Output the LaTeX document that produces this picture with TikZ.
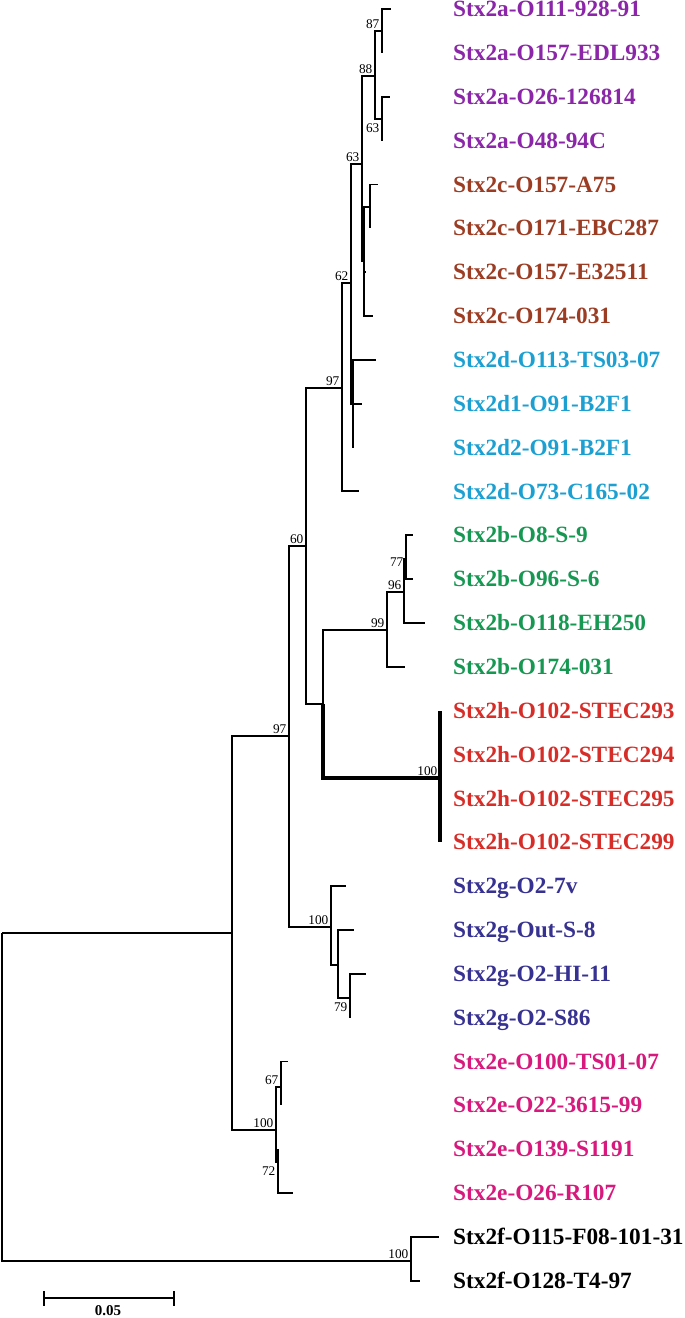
\documentclass[tikz,border=0pt]{standalone}
\usepackage{fontspec}
\setmainfont{Liberation Serif}

\definecolor{stxa}{RGB}{139,38,168}
\definecolor{stxc}{RGB}{155,60,35}
\definecolor{stxd}{RGB}{28,160,210}
\definecolor{stxb}{RGB}{22,152,82}
\definecolor{stxh}{RGB}{215,45,40}
\definecolor{stxg}{RGB}{55,50,145}
\definecolor{stxe}{RGB}{215,25,125}

\tikzset{
  branch/.style = {line width=1.8pt},
  hbranch/.style = {line width=3.2pt},
  leaf/.style = {anchor=west, inner sep=0pt, text height=15.4pt, text depth=0pt,
                 font=\bfseries\fontsize{23.3}{23.3}\selectfont},
  boot/.style = {anchor=south east, inner sep=2.5pt, text height=8.8pt, text depth=0pt,
                 font=\fontsize{13.3}{13.3}\selectfont},
  bootb/.style = {boot, anchor=north east, yshift=-2pt},
}

\begin{document}
\begin{tikzpicture}[x=1pt, y=-1pt]
  \useasboundingbox (0,0) rectangle (685,1318);

  % inner nodes
  \coordinate (root) at (2,933);
  \coordinate (A) at (232,933);
  \coordinate (B) at (289,736);
  \coordinate (C) at (306,546);
  \coordinate (D) at (342,388);
  \coordinate (n62) at (351,283);
  \coordinate (n63b) at (362,164);
  \coordinate (n88) at (375,76);
  \coordinate (n87) at (382,31);
  \coordinate (n63a) at (382,119);
  \coordinate (nc) at (364,261);
  \coordinate (nL) at (370,207);
  \coordinate (nd) at (353,404);
  \coordinate (BH) at (323,704);
  \coordinate (n99) at (387,630);
  \coordinate (n96) at (404,592);
  \coordinate (n77) at (406,559);
  \coordinate (nh) at (440,778);
  \coordinate (G) at (331,927);
  \coordinate (G2) at (338,965);
  \coordinate (G3) at (350,998);
  \coordinate (E) at (276,1130);
  \coordinate (n67) at (281,1087);
  \coordinate (n72) at (278,1162);
  \coordinate (f) at (411,1261);

  % leaves
  \foreach \i/\tx/\col/\txt in {
      0/391/stxa/Stx2a-O111-928-91, 1/382/stxa/Stx2a-O157-EDL933,
      2/390/stxa/Stx2a-O26-126814, 3/382/stxa/Stx2a-O48-94C,
      4/378/stxc/Stx2c-O157-A75, 5/370/stxc/Stx2c-O171-EBC287,
      6/366/stxc/Stx2c-O157-E32511, 7/373/stxc/Stx2c-O174-031,
      8/376/stxd/Stx2d-O113-TS03-07, 9/362/stxd/Stx2d1-O91-B2F1,
      10/353/stxd/Stx2d2-O91-B2F1, 11/359/stxd/Stx2d-O73-C165-02,
      12/413/stxb/Stx2b-O8-S-9, 13/413/stxb/Stx2b-O96-S-6,
      14/425/stxb/Stx2b-O118-EH250, 15/405/stxb/Stx2b-O174-031,
      16/440/stxh/Stx2h-O102-STEC293, 17/440/stxh/Stx2h-O102-STEC294,
      18/440/stxh/Stx2h-O102-STEC295, 19/440/stxh/Stx2h-O102-STEC299,
      20/346/stxg/Stx2g-O2-7v, 21/354/stxg/Stx2g-Out-S-8,
      22/366/stxg/Stx2g-O2-HI-11, 23/350/stxg/Stx2g-O2-S86,
      24/288/stxe/Stx2e-O100-TS01-07, 25/281/stxe/Stx2e-O22-3615-99,
      26/278/stxe/Stx2e-O139-S1191, 27/293/stxe/Stx2e-O26-R107,
      28/439/black/Stx2f-O115-F08-101-31, 29/420/black/Stx2f-O128-T4-97}{
    \coordinate (t\i) at (\tx,{9+43.85*\i});
    \node[leaf, text=\col] (l\i) at (453,{9+43.85*\i}) {\txt};
  }

  % branches
  \draw[branch] (root) |- (A) (root) |- (f);
  \draw[branch] (A) |- (B) (A) |- (E);
  \draw[branch] (B) |- (C) (B) |- (G);
  \draw[branch] (C) |- (D) (C) |- (BH);
  \draw[branch] (D) |- (n62) (D) |- (t11);
  \draw[branch] (n62) |- (n63b) (n62) |- (nd);
  \draw[branch] (n63b) |- (n88) (n63b) |- (nc);
  \draw[branch] (n88) |- (n87) (n88) |- (n63a);
  \draw[branch] (n87) |- (t0) (n87) |- (t1);
  \draw[branch] (n63a) |- (t2) (n63a) |- (t3);
  \draw[branch] (nc) |- (nL) (nc) |- (t6) (nc) |- (t7);
  \draw[branch] (nL) |- (t4) (nL) |- (t5);
  \draw[branch] (nd) |- (t8) (nd) |- (t9) (nd) |- (t10);
  \draw[branch] (BH) |- (n99);
  \draw[hbranch] (BH) |- (nh);
  \draw[branch] (n99) |- (n96) (n99) |- (t15);
  \draw[branch] (n96) |- (n77) (n96) |- (t14);
  \draw[branch] (n77) |- (t12) (n77) |- (t13);
  \draw[hbranch] (nh) -- (t16) (nh) -- (t19);
  \draw[branch] (G) |- (t20) (G) |- (G2);
  \draw[branch] (G2) |- (t21) (G2) |- (G3);
  \draw[branch] (G3) |- (t22) (G3) |- (t23);
  \draw[branch] (E) |- (n67) (E) |- (n72);
  \draw[branch] (n67) |- (t24) (n67) |- (t25);
  \draw[branch] (n72) |- (t26) (n72) |- (t27);
  \draw[branch] (f) |- (t28) (f) |- (t29);

  % bootstrap values
  \node[boot] (b87) at (n87) {87};
  \node[boot] (b88) at (n88) {88};
  \node[bootb] (b63a) at (n63a) {63};
  \node[boot] (b63b) at (n63b) {63};
  \node[boot] (b62) at (n62) {62};
  \node[boot] (b97a) at (D) {97};
  \node[boot] (b60) at (C) {60};
  \node[boot, anchor=east, yshift=-3pt] (b77) at (n77) {77};
  \node[boot] (b96) at (n96) {96};
  \node[boot] (b99) at (n99) {99};
  \node[boot] (b100h) at (nh) {100};
  \node[boot] (b97b) at (B) {97};
  \node[boot] (b100g) at (G) {100};
  \node[bootb] (b79) at (G3) {79};
  \node[boot] (b67) at (n67) {67};
  \node[boot] (b100e) at (E) {100};
  \node[bootb] (b72) at (n72) {72};
  \node[boot] (b100f) at (f) {100};

  % scale bar
  \coordinate (sbl) at (44,1298);
  \coordinate (sbr) at (174,1298);
  \draw[branch] (sbl) -- (sbr);
  \draw[branch] ([yshift=7pt]sbl) -- ([yshift=-8pt]sbl);
  \draw[branch] ([yshift=7pt]sbr) -- ([yshift=-8pt]sbr);
  \node[boot, anchor=center, inner sep=1pt, text height=10pt, font=\bfseries\fontsize{15}{15}\selectfont] (sblab) at (108,1310) {0.05};
\end{tikzpicture}
\end{document}
